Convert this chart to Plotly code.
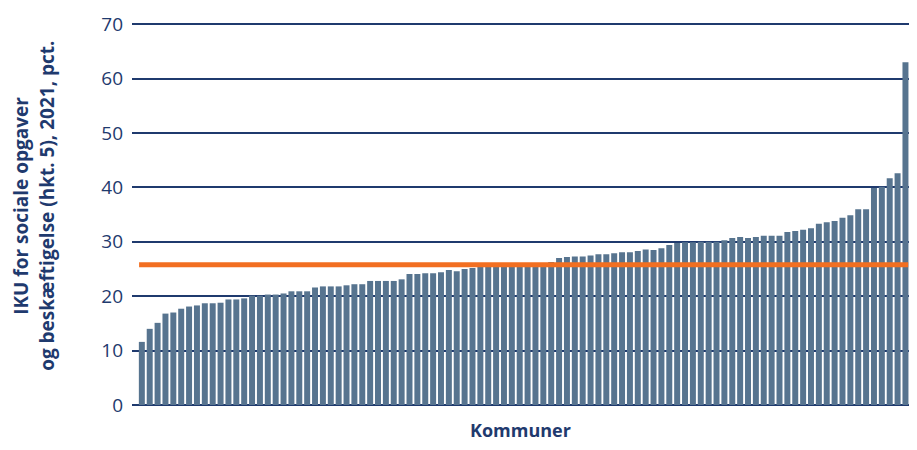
import plotly.graph_objects as go

# IKU per kommune, sorted ascending
values = [
    11.6, 14.0, 15.1, 16.8, 17.0, 17.7, 18.1, 18.3, 18.7, 18.7,
    18.8, 19.4, 19.4, 19.6, 20.1, 20.1, 20.3, 20.3, 20.5, 20.9,
    20.9, 20.9, 21.6, 21.8, 21.8, 21.8, 22.0, 22.2, 22.2, 22.8,
    22.8, 22.8, 22.8, 23.1, 24.1, 24.1, 24.2, 24.2, 24.4, 24.8,
    24.6, 25.0, 25.2, 25.4, 25.5, 25.5, 25.6, 25.7, 25.8, 25.9,
    26.0, 26.1, 26.3, 27.0, 27.2, 27.3, 27.3, 27.5, 27.7, 27.7,
    27.9, 28.1, 28.1, 28.3, 28.6, 28.5, 28.8, 29.4, 29.8, 29.9,
    29.9, 30.0, 30.0, 30.0, 30.3, 30.7, 30.9, 30.7, 30.9, 31.1,
    31.1, 31.1, 31.8, 32.0, 32.2, 32.5, 33.3, 33.6, 33.8, 34.4,
    34.9, 36.0, 36.0, 39.9, 40.1, 41.7, 42.6, 63.0,
]
kommuner = list(range(len(values)))
landsgennemsnit = 25.8

y_ticks = [0, 10, 20, 30, 40, 50, 60, 70]
y_title_lines = ["IKU for sociale opgaver", "og beskæftigelse (hkt. 5), 2021, pct."]
x_title = "Kommuner"

NAVY = "#1f3a6e"
BAR = "#57748f"
ORANGE = "#f26f21"
FONT = "Open Sans"

fig = go.Figure()
fig.add_trace(go.Bar(x=kommuner, y=values, marker=dict(color=BAR, line=dict(width=0)),
                     showlegend=False))

# national average line
fig.add_shape(type="line", xref="x", yref="y",
              x0=kommuner[0] - 0.35, x1=kommuner[-1] + 0.35,
              y0=landsgennemsnit, y1=landsgennemsnit,
              line=dict(color=ORANGE, width=5), layer="above")

# axis titles as annotations (two rotated lines + bottom label)
for line, shift in zip(y_title_lines, [-111, -85]):
    fig.add_annotation(text=f"<b>{line}</b>", xref="paper", yref="paper",
                       x=0, y=0.52, xanchor="center", yanchor="middle",
                       xshift=shift, textangle=-90, showarrow=False, borderpad=0,
                       font=dict(size=19, color=NAVY))
fig.add_annotation(text=f"<b>{x_title}</b>", xref="paper", yref="paper",
                   x=0.5, y=0, xanchor="center", yanchor="middle",
                   yshift=-25, showarrow=False, borderpad=0,
                   font=dict(size=18, color=NAVY))

# page body adds an 8px margin on every side; keep the figure inside the visible area
fig.update_layout(
    width=901, height=434,
    margin=dict(l=124, r=0, t=14, b=37),
    plot_bgcolor="white", paper_bgcolor="white",
    bargap=0.24,
    font=dict(family=FONT, color=NAVY),
    xaxis=dict(
        range=[-1.25, len(values) - 0.55],
        showticklabels=False, showgrid=False, zeroline=False, ticks="",
    ),
    yaxis=dict(
        range=[0, 70.4], tickvals=y_ticks,
        showgrid=True, gridcolor=NAVY, gridwidth=1.5,
        zeroline=True, zerolinecolor=NAVY, zerolinewidth=1.5,
        tickfont=dict(size=19, color=NAVY), ticks="", ticklabelstandoff=8,
    ),
)

fig.write_html("out.html")
